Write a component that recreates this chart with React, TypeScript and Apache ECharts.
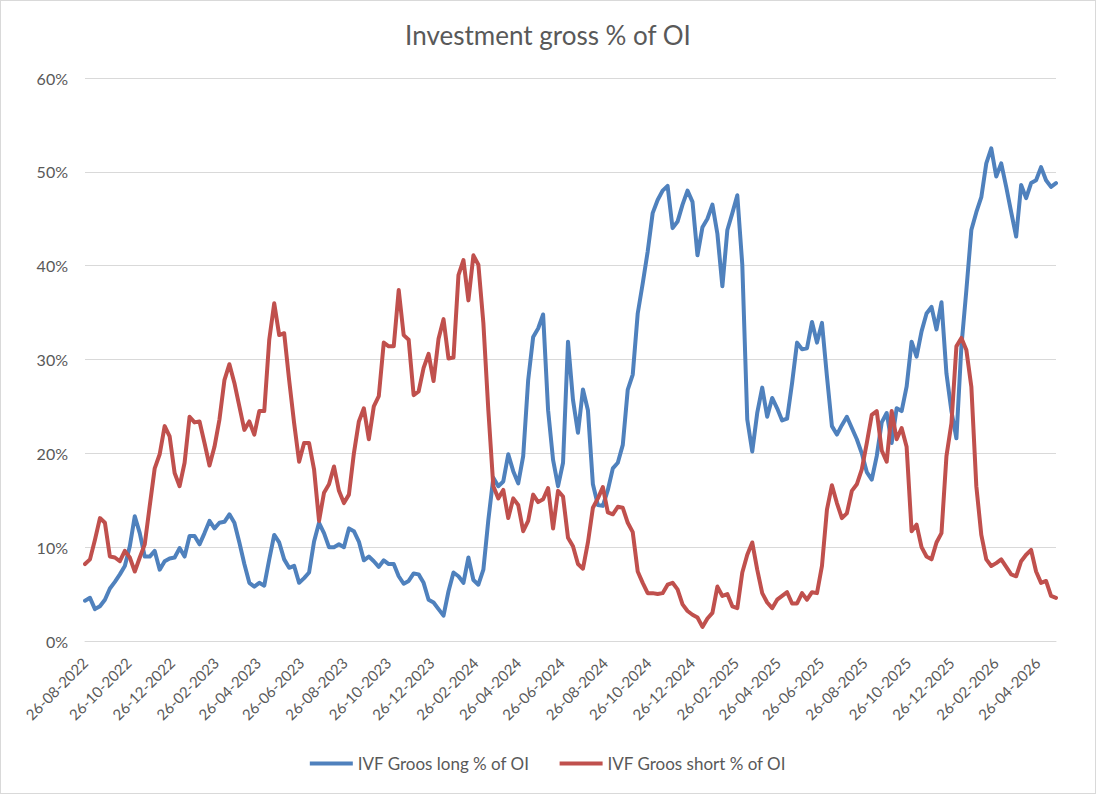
import { useEffect, useRef } from "react";
import * as echarts from "echarts";

// Weekly observations, first week and tick labels (DD-MM-YYYY)
const FIRST_WEEK = "26-08-2022";

const TICK_LABELS = [
  "26-08-2022", "26-10-2022", "26-12-2022", "26-02-2023", "26-04-2023", "26-06-2023",
  "26-08-2023", "26-10-2023", "26-12-2023", "26-02-2024", "26-04-2024", "26-06-2024",
  "26-08-2024", "26-10-2024", "26-12-2024", "26-02-2025", "26-04-2025", "26-06-2025",
  "26-08-2025", "26-10-2025", "26-12-2025", "26-02-2026", "26-04-2026",
];

// IVF gross long as % of open interest
const LONG_PCT = [
  4.3, 4.6, 3.4, 3.7, 4.4, 5.6, 6.3, 7.1, 8.0, 10.1,
  13.3, 11.5, 9.0, 9.0, 9.6, 7.6, 8.5, 8.8, 8.9, 9.9,
  9.0, 11.2, 11.2, 10.3, 11.5, 12.8, 12.0, 12.6, 12.7, 13.5,
  12.6, 10.5, 8.2, 6.2, 5.8, 6.2, 5.9, 8.7, 11.3, 10.5,
  8.7, 7.8, 8.0, 6.2, 6.7, 7.3, 10.6, 12.6, 11.5, 10.0,
  10.0, 10.3, 10.0, 12.0, 11.7, 10.6, 8.6, 9.0, 8.5, 7.9,
  8.6, 8.2, 8.2, 6.9, 6.1, 6.4, 7.2, 7.1, 6.2, 4.4,
  4.1, 3.4, 2.7, 5.3, 7.3, 6.9, 6.2, 8.9, 6.5, 6.0,
  7.6, 12.9, 17.4, 16.5, 17.0, 19.9, 18.1, 16.8, 19.7, 27.8,
  32.4, 33.3, 34.8, 24.6, 19.3, 16.5, 19.0, 31.9, 25.7, 22.2,
  26.8, 24.6, 16.7, 14.5, 14.4, 16.1, 18.4, 19.0, 20.9, 26.8,
  28.4, 34.9, 38.1, 41.5, 45.6, 47.0, 48.0, 48.5, 44.0, 44.7,
  46.5, 48.0, 46.8, 41.1, 44.1, 45.0, 46.5, 43.4, 37.8, 43.8,
  45.6, 47.5, 40.1, 23.6, 20.2, 24.3, 27.0, 23.9, 25.9, 24.8,
  23.5, 23.7, 27.5, 31.8, 31.1, 31.2, 34.0, 31.8, 33.9, 28.2,
  22.9, 22.0, 23.0, 23.9, 22.7, 21.5, 20.0, 18.0, 17.2, 19.7,
  23.3, 24.3, 21.1, 24.8, 24.5, 27.1, 31.9, 30.3, 33.0, 34.9,
  35.6, 33.2, 36.1, 28.5, 24.5, 21.6, 31.4, 37.4, 43.8, 45.7,
  47.3, 50.9, 52.5, 49.5, 50.9, 48.4, 45.7, 43.1, 48.6, 47.2,
  48.8, 49.1, 50.5, 49.1, 48.4, 48.8,
];

// IVF gross short as % of open interest
const SHORT_PCT = [
  8.2, 8.7, 10.8, 13.1, 12.6, 9.0, 8.9, 8.5, 9.6, 8.9,
  7.4, 8.9, 10.3, 14.4, 18.4, 19.9, 22.9, 21.8, 17.9, 16.5,
  19.0, 23.9, 23.3, 23.4, 21.1, 18.7, 20.7, 23.6, 27.8, 29.5,
  27.5, 25.0, 22.5, 23.4, 22.0, 24.5, 24.5, 32.1, 36.0, 32.6,
  32.8, 27.8, 23.2, 19.1, 21.1, 21.1, 18.3, 12.8, 15.8, 16.7,
  18.6, 16.0, 14.7, 15.6, 20.0, 23.4, 24.8, 21.5, 25.0, 26.1,
  31.8, 31.4, 31.4, 37.4, 32.6, 32.1, 26.2, 26.6, 29.1, 30.6,
  27.7, 32.2, 34.3, 30.1, 30.2, 39.0, 40.6, 36.3, 41.1, 40.1,
  33.9, 24.6, 16.5, 15.2, 16.1, 13.1, 15.2, 14.5, 11.7, 12.8,
  15.6, 14.8, 15.1, 16.3, 12.0, 16.0, 15.4, 11.0, 10.1, 8.2,
  7.7, 10.5, 14.2, 15.2, 16.4, 13.7, 13.5, 14.3, 14.2, 12.6,
  11.6, 7.4, 6.2, 5.1, 5.1, 5.0, 5.1, 6.0, 6.2, 5.5,
  3.9, 3.2, 2.8, 2.5, 1.5, 2.4, 3.0, 5.8, 4.8, 5.0,
  3.7, 3.5, 7.3, 9.2, 10.5, 7.6, 5.1, 4.1, 3.5, 4.4,
  4.8, 5.2, 4.0, 4.0, 5.1, 4.4, 5.2, 5.1, 8.0, 14.0,
  16.6, 14.7, 13.1, 13.6, 16.0, 16.7, 18.3, 21.1, 24.1, 24.5,
  20.3, 19.1, 24.5, 21.5, 22.7, 20.7, 11.7, 12.4, 10.0, 9.0,
  8.7, 10.5, 11.5, 19.7, 23.2, 31.4, 32.3, 31.0, 27.1, 16.5,
  11.3, 8.7, 8.0, 8.3, 8.7, 7.9, 7.1, 6.9, 8.5, 9.2,
  9.7, 7.4, 6.2, 6.4, 4.8, 4.6,
];

const Y_TICKS = [0, 10, 20, 30, 40, 50, 60];

const SERIES_NAMES = ["IVF Groos long % of OI", "IVF Groos short % of OI"];
const SERIES_COLORS = ["#4f81bd", "#c0504d"];

const DAY_MS = 86400000;

function parseDmy(s: string): number {
  const [d, m, y] = s.split("-").map(Number);
  return Date.UTC(y, m - 1, d);
}

function formatDmy(t: number): string {
  const dt = new Date(t);
  const dd = String(dt.getUTCDate()).padStart(2, "0");
  const mm = String(dt.getUTCMonth() + 1).padStart(2, "0");
  return `${dd}-${mm}-${dt.getUTCFullYear()}`;
}

const FONT = "Lato, 'Noto Sans', sans-serif";
const TEXT_COLOR = "#595959";
const GRID_COLOR = "#d9d9d9";

export default function App() {
  const ref = useRef<HTMLDivElement>(null);

  useEffect(() => {
    if (!ref.current) return;
    const chart = echarts.init(ref.current, undefined, { renderer: "svg" });

    const start = parseDmy(FIRST_WEEK);
    const weeks = LONG_PCT.map((_, i) => start + i * 7 * DAY_MS);
    const tickValues = TICK_LABELS.map(parseDmy);

    chart.setOption({
      animation: false,
      backgroundColor: "#ffffff",
      title: {
        text: "Investment gross % of OI",
        left: "center",
        top: 17,
        textStyle: { fontFamily: FONT, fontSize: 26, fontWeight: "normal", color: TEXT_COLOR },
      },
      legend: {
        data: SERIES_NAMES,
        top: 750,
        left: "center",
        icon: "rect",
        itemWidth: 43,
        itemHeight: 4,
        itemGap: 30,
        textStyle: { fontFamily: FONT, fontSize: 17, color: TEXT_COLOR },
      },
      grid: { left: 85, right: 40, top: 78, bottom: 153 },
      xAxis: {
        // date axis expressed in epoch milliseconds
        type: "value",
        min: weeks[0],
        max: weeks[weeks.length - 1],
        axisLine: { show: true, lineStyle: { color: GRID_COLOR, width: 1 } },
        axisTick: { show: false },
        splitLine: { show: false },
        axisLabel: {
          customValues: tickValues,
          formatter: (v: number) => formatDmy(v),
          rotate: 45,
          margin: 19,
          hideOverlap: false,
          showMinLabel: true,
          showMaxLabel: true,
          color: TEXT_COLOR,
          fontFamily: FONT,
          fontSize: 15,
        },
      },
      yAxis: {
        type: "value",
        min: Y_TICKS[0],
        max: Y_TICKS[Y_TICKS.length - 1],
        interval: 10,
        axisLine: { show: false },
        axisTick: { show: false },
        splitLine: { lineStyle: { color: GRID_COLOR, width: 1 } },
        axisLabel: {
          formatter: "{value}%",
          margin: 17,
          color: TEXT_COLOR,
          fontFamily: FONT,
          fontSize: 16,
        },
      },
      series: [LONG_PCT, SHORT_PCT].map((vals, k) => ({
        name: SERIES_NAMES[k],
        type: "line",
        data: vals.map((v, i) => [weeks[i], v]),
        symbol: "none",
        showSymbol: false,
        smooth: false,
        itemStyle: { color: SERIES_COLORS[k] },
        lineStyle: { color: SERIES_COLORS[k], width: 4, cap: "round", join: "round" },
      })),
    });

    return () => chart.dispose();
  }, []);

  return (
    <div style={{ position: "fixed", left: 0, top: 0, width: 1096, height: 794, background: "#fff" }}>
      <div ref={ref} style={{ position: "absolute", left: 0, top: 0, width: 1096, height: 794 }} />
      <div
        style={{
          position: "absolute",
          left: 0,
          top: 0,
          width: 1096,
          height: 794,
          boxSizing: "border-box",
          border: `1px solid ${GRID_COLOR}`,
          pointerEvents: "none",
        }}
      />
    </div>
  );
}
